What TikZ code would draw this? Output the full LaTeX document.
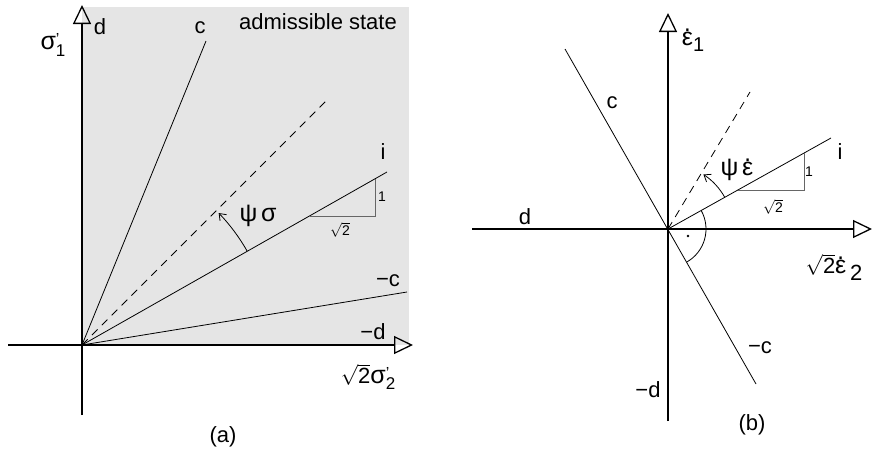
\documentclass[tikz,border=0pt]{standalone}
\usepackage{fontspec}
\setmainfont{Liberation Sans}
\usetikzlibrary{arrows.meta,calc}
\definecolor{bggray}{gray}{0.9}
\definecolor{tricol}{gray}{0.4}
\newcommand\gk[1]{{\fontsize{25}{25}\selectfont #1}}
\newcommand\myedot{\leavevmode\setbox0\hbox{\gk{ε}}\rlap{\hbox to\wd0{\hss\raisebox{0.62em}{\fontsize{24}{24}\selectfont .}\hss}}\box0}
\tikzset{
 lbl/.style={font=\fontsize{22}{24}\selectfont, inner sep=0pt},
 smalllbl/.style={font=\fontsize{14}{16}\selectfont, inner sep=0pt},
 axis/.style={line width=1.5pt, -{Triangle[open,length=19pt,width=18pt,line width=1.3pt]}},
 ray/.style={line width=0.8pt},
 dray/.style={line width=0.8pt, dash pattern=on 8pt off 6pt},
 angarc/.style={line width=0.8pt, -{Straight Barb[length=6pt,width=9pt]}},
 slope/.style={line width=0.9pt, draw=tricol},
}
\begin{document}
\begin{tikzpicture}[x=1pt,y=-1pt]
\useasboundingbox (0,0) rectangle (873,461);
% ---------------- panel (a)
\fill[bggray] (82,7) rectangle (409,345);
\coordinate (Oa) at (82,345);
\coordinate (ca) at (206,41);
\coordinate (dsa) at (328,99);
\coordinate (ia) at (387,172);
\coordinate (mca) at (407,292);
\draw[ray] (Oa) -- (ca);
\draw[dray] (Oa) -- (dsa);
\draw[ray] (Oa) -- (ia);
\draw[ray] (Oa) -- (mca);
\coordinate (ya0) at (82,415);
\coordinate (ya1) at (82,5);
\coordinate (xa0) at (8,345);
\coordinate (xa1) at (413,345);
\draw[axis] (ya0) -- (ya1);
\draw[axis] (xa0) -- (xa1);
\coordinate (ta1) at (310,216);
\coordinate (ta2) at (375,216);
\coordinate (ta3) at (375,179);
\draw[slope] (ta1) -- (ta2) -- (ta3);
\draw[angarc] ($(Oa)+(-29.6:190)$) arc[start angle=-29.6, end angle=-44, radius=190];
\node[lbl] (la-d) at (100,27) {d};
\node[lbl] (la-c) at (200,28) {c};
\node[lbl] (la-s1) at (53,45) {\gk{σ}\makebox[0pt][l]{\fontsize{16}{16}\selectfont\raisebox{0.6ex}{’}}\raisebox{-0.55ex}{\fontsize{17}{17}\selectfont 1}};
\node[lbl] (la-adm) at (318,22) {admissible state};
\node[lbl] (la-i) at (383,152) {i};
\node[lbl] (la-psi) at (258,216) {\gk{ψ}\,\gk{σ}};
\node[smalllbl] (la-1) at (382,197) {1};
\node[smalllbl] (la-r2) at (340,230) {$\sqrt{\hbox{2}}$};
\node[lbl] (la-mc) at (388,281) {−c};
\node[lbl] (la-md) at (373,332) {−d};
\node[lbl] (la-s2) at (368,377) {$\sqrt{\hbox{2}}$\gk{σ}\makebox[0pt][l]{\fontsize{16}{16}\selectfont\raisebox{0.6ex}{’}}\raisebox{-0.55ex}{\fontsize{17}{17}\selectfont 2}};
\node[lbl] (la-cap) at (223,437) {(a)};
% ---------------- panel (b)
\coordinate (Ob) at (668,229);
\coordinate (cb1) at (565,49);
\coordinate (cb2) at (756,384);
\coordinate (dsb) at (750,92);
\coordinate (ib) at (831,138);
\draw[ray] (cb1) -- (cb2);
\draw[dray] (Ob) -- (dsb);
\draw[ray] (Ob) -- (ib);
\coordinate (yb0) at (668,421);
\coordinate (yb1) at (668,13);
\coordinate (xb0) at (472,229);
\coordinate (xb1) at (872,229);
\draw[axis] (yb0) -- (yb1);
\draw[axis] (xb0) -- (xb1);
\coordinate (tb1) at (738,190);
\coordinate (tb2) at (804,190);
\coordinate (tb3) at (804,153);
\draw[slope] (tb1) -- (tb2) -- (tb3);
\draw[angarc] ($(Ob)+(-29.2:65)$) arc[start angle=-29.2, end angle=-57, radius=65];
\draw[ray] ($(Ob)+(-29.2:38)$) arc[start angle=-29.2, end angle=60.4, radius=38];
\fill (688,236) circle[radius=1.3];
\node[lbl] (lb-e1) at (693,40) {\myedot\raisebox{-0.5ex}{\fontsize{20}{20}\selectfont 1}};
\node[lbl] (lb-c) at (612,103) {c};
\node[lbl] (lb-mc) at (760,348) {−c};
\node[lbl] (lb-d) at (525,217) {d};
\node[lbl] (lb-md) at (648,390) {−d};
\node[lbl] (lb-i) at (840,152) {i};
\node[smalllbl] (lb-1) at (809,172) {1};
\node[smalllbl] (lb-r2) at (773,207) {$\sqrt{\hbox{2}}$};
\node[lbl] (lb-psi) at (737,170) {\gk{ψ}\,\myedot};
\node[lbl] (lb-e2) at (834,267) {$\sqrt{\hbox{2}}$\myedot\,\raisebox{-0.6ex}{\fontsize{22}{22}\selectfont 2}};
\node[lbl] (lb-cap) at (752,425) {(b)};
\end{tikzpicture}
\end{document}
